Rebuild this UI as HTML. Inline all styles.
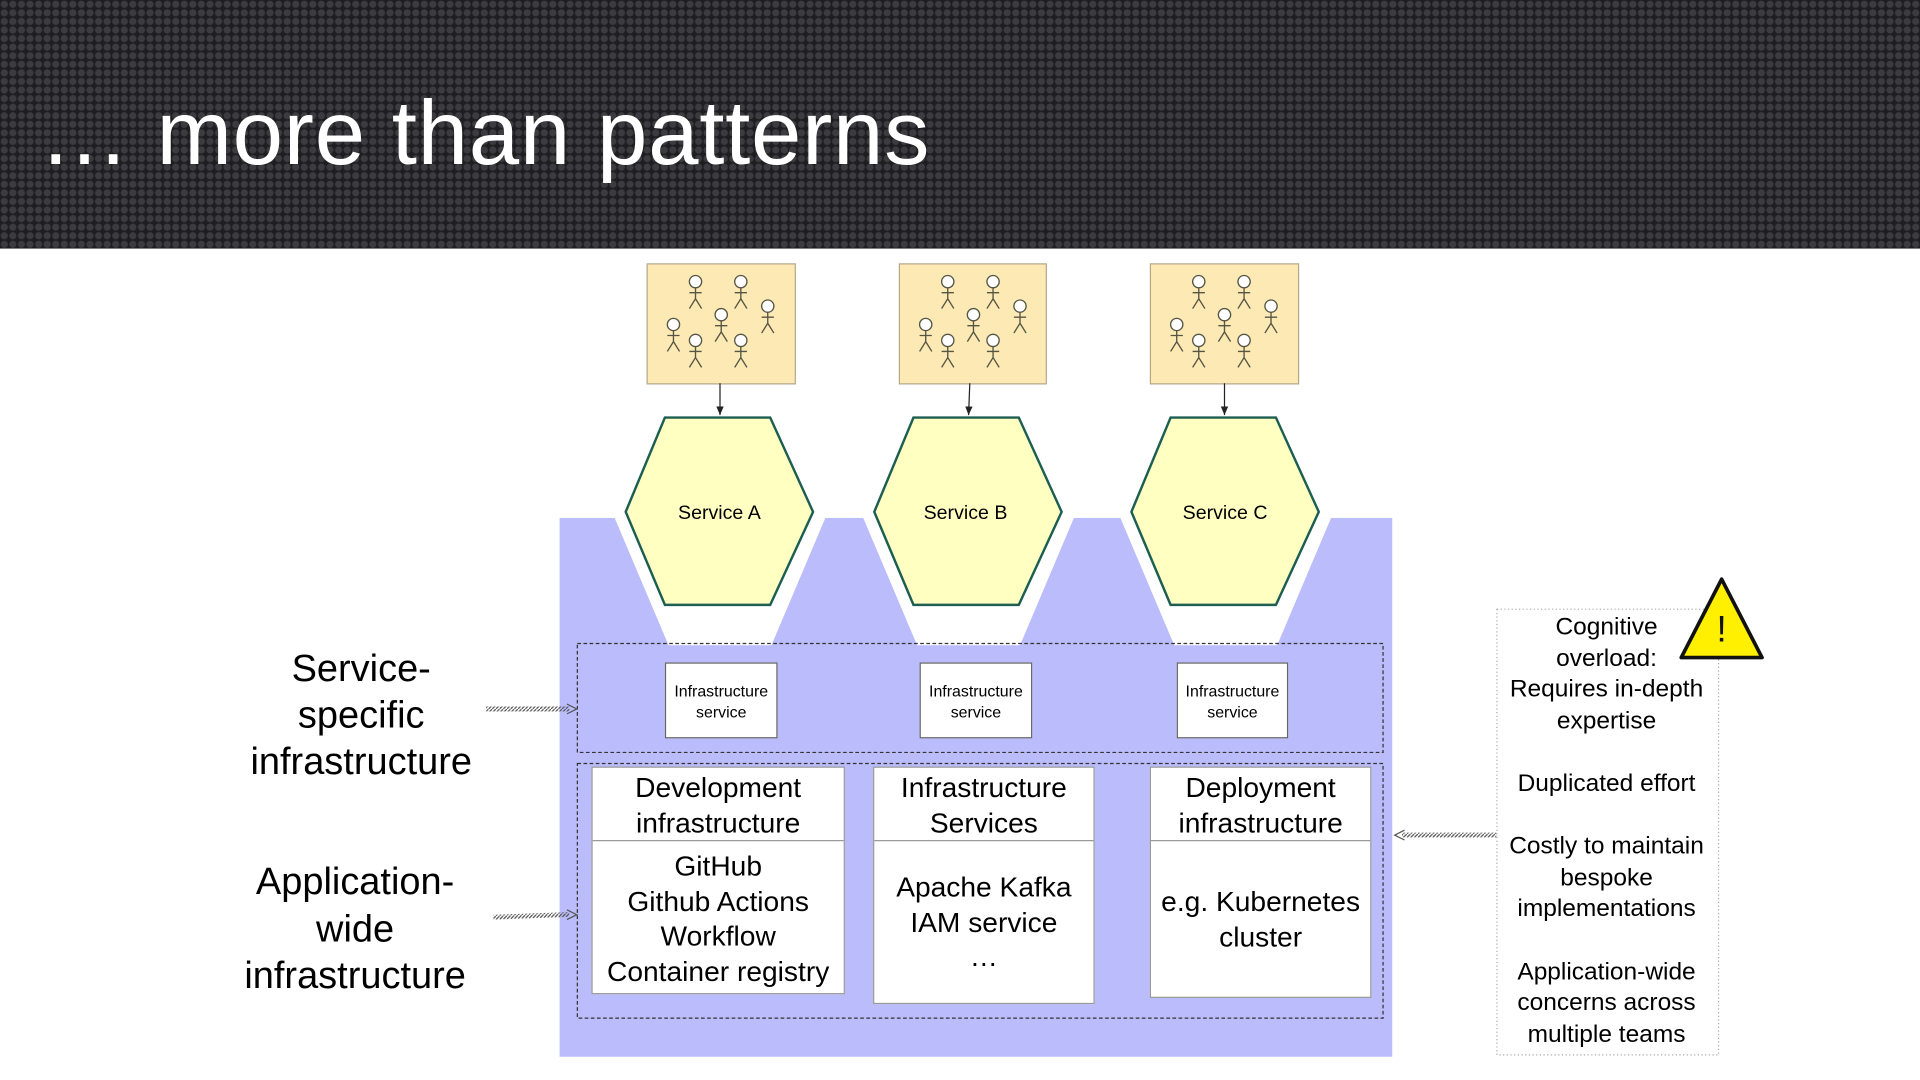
<!DOCTYPE html>
<html><head><meta charset="utf-8"><style>
html,body{margin:0;padding:0;width:1920px;height:1080px;overflow:hidden;background:#fff}
#s{position:absolute;left:0;top:0;width:1568px;height:882px;transform:scale(1.22449);transform-origin:0 0;font-family:"Liberation Sans",sans-serif}
.hdr{position:absolute;left:0;top:0;width:1568px;height:203px;background-color:#1e1e20;
background-image:radial-gradient(circle at 50% 50%,#3c3c40 0 2.6px,transparent 3.2px);background-size:7px 7px}
.title{position:absolute;left:32px;top:66px;color:#fff;font-size:74px;letter-spacing:0.6px}
.t{position:absolute;text-align:center;color:#000}
.box{position:absolute;background:#fff;border:1px solid #666;box-sizing:border-box}
</style></head><body><div id="s">
<div class="hdr"></div>
<div class="title">… more than patterns</div>
<svg width="1568" height="882" style="position:absolute;left:0;top:0">
<defs>
<marker id="ah" markerWidth="8" markerHeight="8" refX="7" refY="4" orient="auto"><path d="M0,1 L7,4 L0,7z" fill="#222"/></marker>
<pattern id="hat" width="3" height="3" patternUnits="userSpaceOnUse"><path d="M0,3 L3,0" stroke="#555" stroke-width="1"/></pattern>
<g id="man" stroke="#554" stroke-width="1.1" fill="#fff"><circle cx="0" cy="0" r="5"/><path d="M0,5 V14 M-5,9 H5 M0,14 L-5,22 M0,14 L5,22" fill="none"/></g>
<g id="ppl"><use href="#man" x="40" y="15"/><use href="#man" x="77" y="15"/><use href="#man" x="99" y="35"/><use href="#man" x="61" y="42"/><use href="#man" x="22" y="50"/><use href="#man" x="40" y="63"/><use href="#man" x="77" y="63"/></g>
</defs>
<rect x="457" y="423" width="680" height="440" fill="#bbbcfb"/>
<g fill="#fff">
<polygon points="502,423 674,423 630,527 546,527"/>
<polygon points="705,423 877,423 833,527 749,527"/>
<polygon points="915,423 1087,423 1043,527 959,527"/>
</g>
<g fill="#ffffc2" stroke="#1d5e52" stroke-width="2">
<polygon points="543,341 629,341 664,418 629,494 543,494 511,418"/>
<polygon points="746,341 832,341 867,418 832,494 746,494 714,418"/>
<polygon points="956,341 1042,341 1077,418 1042,494 956,494 924,418"/>
</g>
<g fill="#fde9b4" stroke="#b5a88a" stroke-width="1">
<rect x="528.5" y="215.5" width="121" height="98"/>
<rect x="734.5" y="215.5" width="120" height="98"/>
<rect x="939.5" y="215.5" width="121" height="98"/>
</g>
<use href="#ppl" x="528" y="215"/><use href="#ppl" x="734" y="215"/><use href="#ppl" x="939" y="215"/>
<g stroke="#222" stroke-width="1" marker-end="url(#ah)">
<line x1="588" y1="313" x2="588" y2="339"/><line x1="792" y1="313" x2="791" y2="339"/><line x1="1000" y1="313" x2="1000" y2="339"/>
</g>
<g fill="none" stroke="#333" stroke-dasharray="3,2" stroke-width="1">
<rect x="471.5" y="525.5" width="658" height="89"/>
<rect x="471.5" y="623.5" width="658" height="208"/>
</g>
<rect x="1222.5" y="497.5" width="181" height="364" fill="#fff" stroke="#aaa" stroke-dasharray="1,2"/>
<g>
<rect x="397" y="577" width="68" height="4" fill="url(#hat)"/><path d="M463,575 L471,579 L463,583" fill="none" stroke="#555"/>
<rect x="403" y="746" width="62" height="4" fill="url(#hat)" transform="rotate(-2 434 748)"/><path d="M463,743 L471,747 L463,751" fill="none" stroke="#555"/>
<rect x="1145" y="680" width="77" height="4" fill="url(#hat)"/><path d="M1147,678 L1139,682 L1147,686" fill="none" stroke="#555"/>
</g>
<polygon points="1406,473 1439,537 1373,537" fill="#ffef00" stroke="#111" stroke-width="3" stroke-linejoin="round"/>
<text x="1406" y="524" font-size="30" text-anchor="middle" font-family="Liberation Sans" fill="#111">!</text>
</svg>
<div class="t" style="left:511px;top:411px;width:153px;font-size:16px">Service A</div>
<div class="t" style="left:712px;top:411px;width:153px;font-size:16px">Service B</div>
<div class="t" style="left:924px;top:411px;width:153px;font-size:16px">Service C</div>
<div class="box" style="left:543px;top:541px;width:92px;height:62px;font-size:13px;text-align:center;padding-top:14px;line-height:17px">Infrastructure<br>service</div>
<div class="box" style="left:751px;top:541px;width:92px;height:62px;font-size:13px;text-align:center;padding-top:14px;line-height:17px">Infrastructure<br>service</div>
<div class="box" style="left:961px;top:541px;width:91px;height:62px;font-size:13px;text-align:center;padding-top:14px;line-height:17px">Infrastructure<br>service</div>
<div class="box" style="left:483px;top:626px;width:207px;height:186px;border-color:#999;text-align:center;font-size:23px;line-height:28.5px">
<div style="height:60px;border-bottom:1px solid #999;padding-top:2px;box-sizing:border-box">Development<br>infrastructure</div>
<div style="padding-top:6px">GitHub<br>Github Actions<br>Workflow<br>Container registry</div></div>
<div class="box" style="left:713px;top:626px;width:181px;height:194px;border-color:#999;text-align:center;font-size:23px;line-height:28.5px">
<div style="height:60px;border-bottom:1px solid #999;padding-top:2px;box-sizing:border-box">Infrastructure<br>Services</div>
<div style="padding-top:23px">Apache Kafka<br>IAM service<br>…</div></div>
<div class="box" style="left:939px;top:626px;width:181px;height:189px;border-color:#999;text-align:center;font-size:23px;line-height:28.5px">
<div style="height:60px;border-bottom:1px solid #999;padding-top:2px;box-sizing:border-box">Deployment<br>infrastructure</div>
<div style="padding-top:35px">e.g. Kubernetes<br>cluster</div></div>
<div class="t" style="left:190px;top:527px;width:210px;font-size:31px;line-height:38px">Service-<br>specific<br>infrastructure</div>
<div class="t" style="left:185px;top:701px;width:210px;font-size:31px;line-height:38.5px">Application-<br>wide<br>infrastructure</div>
<div class="t" style="left:1212px;top:500px;width:200px;font-size:20px;line-height:25.6px">Cognitive<br>overload:<br>Requires in-depth<br>expertise<br><br>Duplicated effort<br><br>Costly to maintain<br>bespoke<br>implementations<br><br>Application-wide<br>concerns across<br>multiple teams</div>
</div></body></html>
